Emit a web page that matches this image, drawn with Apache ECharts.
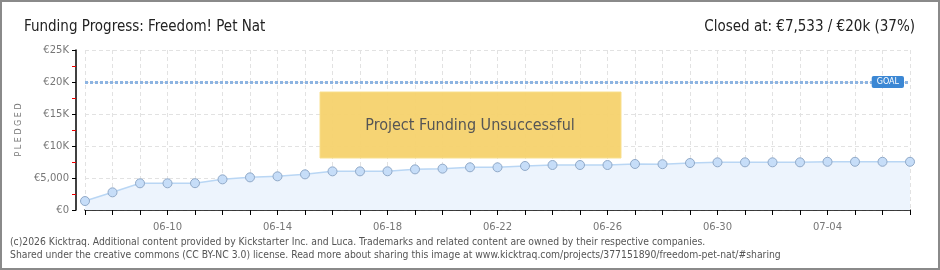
<!DOCTYPE html>
<html>
<head>
<meta charset="utf-8">
<script src="https://cdn.jsdelivr.net/npm/echarts@6/dist/echarts.min.js"></script>
<style>
  html, body { margin: 0; padding: 0; background: #fff; }
  #chart { width: 940px; height: 270px; }
</style>
</head>
<body>
<div id="chart"></div>
<script>
// daily pledged totals (EUR)
var days = ['06-07','06-08','06-09','06-10','06-11','06-12','06-13','06-14','06-15','06-16',
            '06-17','06-18','06-19','06-20','06-21','06-22','06-23','06-24','06-25','06-26',
            '06-27','06-28','06-29','06-30','07-01','07-02','07-03','07-04','07-05','07-06','07-07'];
var pledged = [1400, 2760, 4170, 4170, 4190, 4790, 5100, 5260, 5570, 6040,
               6040, 6050, 6350, 6460, 6670, 6670, 6880, 7030, 7030, 7030,
               7190, 7160, 7340, 7450, 7450, 7450, 7450, 7533, 7533, 7533, 7533];
var goal = 20000;
var yTicks = [0, 5000, 10000, 15000, 20000, 25000];
var yLabels = ['€0', '€5,000', '€10K', '€15K', '€20K', '€25K'];

var myChart = echarts.init(document.getElementById('chart'));

var headFont = { fontFamily: 'DejaVu Sans Condensed', fontSize: 15, fontWeight: 'normal', color: '#222' };

var option = {
    animation: false,
    backgroundColor: '#fff',
    title: [
        { text: 'Funding Progress: Freedom! Pet Nat', left: 19, top: 15, textStyle: headFont },
        { text: 'Closed at: €7,533 / €20k (37%)', right: 20, top: 15, textStyle: headFont }
    ],
    grid: { left: 85, right: 30, top: 50, bottom: 60, containLabel: false },
    xAxis: {
        type: 'category',
        data: days,
        boundaryGap: false,
        offset: 9,
        axisLine: { lineStyle: { color: '#000', width: 1.5 } },
        axisTick: { interval: 0, length: 5, lineStyle: { color: '#000' } },
        axisLabel: {
            interval: function (i) { return (i - 3) % 4 === 0; },
            color: '#777', fontFamily: 'DejaVu Sans', fontSize: 10, margin: 3
        },
        splitLine: { show: true, interval: 0, lineStyle: { color: '#e2e2e2', type: [4, 3] } }
    },
    yAxis: {
        type: 'value',
        min: 0, max: 25000, interval: 5000,
        offset: 9,
        name: 'P L E D G E D',
        nameLocation: 'middle',
        nameGap: 52,
        nameTextStyle: { color: '#777', fontFamily: 'DejaVu Sans', fontSize: 8 },
        axisLine: { show: true, lineStyle: { color: '#000', width: 1.5 } },
        axisTick: { show: true, length: 4, lineStyle: { color: '#000' } },
        minorTick: { show: true, splitNumber: 2, length: 4, lineStyle: { color: '#e00' } },
        axisLabel: {
            color: '#777', fontFamily: 'DejaVu Sans', fontSize: 10, margin: 7,
            formatter: function (v) { return yLabels[yTicks.indexOf(v)]; }
        },
        splitLine: { show: true, lineStyle: { color: '#e2e2e2', type: [4, 3] } }
    },
    series: [{
        type: 'line',
        data: pledged,
        symbol: 'circle',
        symbolSize: 9,
        lineStyle: { color: '#b9d6f4', width: 1.5 },
        itemStyle: { color: '#c6ddf8', borderColor: '#90a9c8', borderWidth: 1 },
        areaStyle: { color: '#edf4fd', opacity: 1 },
        markLine: {
            symbol: 'none',
            silent: true,
            data: [{ yAxis: goal }],
            lineStyle: { color: '#8db4e2', width: 3, type: [3, 2] },
            label: {
                show: true,
                position: 'insideEnd',
                distance: 6,
                formatter: 'GOAL',
                color: '#fff',
                backgroundColor: '#3b87d4',
                borderRadius: 2,
                padding: [2, 5],
                fontFamily: 'DejaVu Sans',
                fontSize: 8
            }
        }
    }],
    graphic: [
        {
            type: 'rect',
            shape: { x: 1, y: 1, width: 938, height: 268 },
            style: { fill: 'none', stroke: '#8a8a8a', lineWidth: 2 },
            z: 100
        },
        {
            type: 'rect',
            shape: { x: 320, y: 92, width: 301, height: 66 },
            style: { fill: '#f6d370', stroke: '#f9df8c', lineWidth: 1, opacity: 0.97 },
            z: 50
        },
        {
            type: 'text',
            x: 470, y: 126,
            style: {
                text: 'Project Funding Unsuccessful',
                fill: '#555',
                fontFamily: 'DejaVu Sans Condensed',
                fontSize: 16,
                align: 'center',
                verticalAlign: 'middle',
                textShadowColor: '#fff',
                textShadowOffsetX: 1,
                textShadowOffsetY: 1
            },
            z: 51
        },
        {
            type: 'text',
            x: 10, y: 236,
            style: {
                text: '(c)2026 Kicktraq. Additional content provided by Kickstarter Inc. and Luca. Trademarks and related content are owned by their respective companies.\nShared under the creative commons (CC BY-NC 3.0) license. Read more about sharing this image at www.kicktraq.com/projects/377151890/freedom-pet-nat/#sharing',
                fill: '#555',
                fontFamily: 'DejaVu Sans Condensed',
                fontSize: 10.3,
                lineHeight: 13
            }
        }
    ]
};

myChart.setOption(option);
</script>
</body>
</html>
